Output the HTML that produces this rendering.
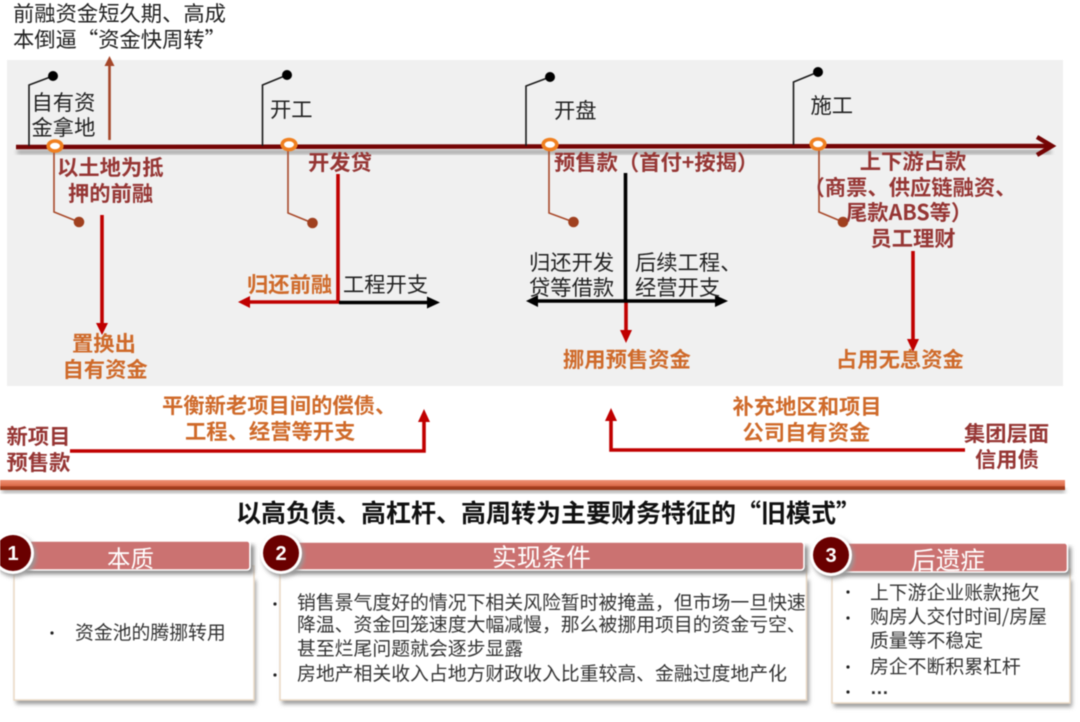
<!DOCTYPE html>
<html lang="zh-CN">
<head>
<meta charset="utf-8">
<style>
html,body{margin:0;padding:0;background:#fff;width:1080px;height:722px;overflow:hidden}
svg{display:block;filter:blur(.5px)}
text{font-family:"Noto Sans CJK SC","Liberation Sans",sans-serif;font-size:21.3px}
.k{fill:#222}
.r{fill:#963634;font-weight:700}
.o{fill:#cf6a2a;font-weight:700}
.g{fill:#333;font-size:18.85px}
.h{fill:#fff;font-size:23.5px}
.n{fill:#fff;font-family:"Liberation Sans",sans-serif;font-size:20px;font-weight:700}
.t{fill:#111;font-size:25px;font-weight:700}
.m{text-anchor:middle}
</style>
</head>
<body>
<svg width="1080" height="722" viewBox="0 0 1080 722" xmlns="http://www.w3.org/2000/svg">
<defs>
<linearGradient id="band" x1="0" y1="0" x2="0" y2="1">
<stop offset="0" stop-color="#ee8f72"/><stop offset=".6" stop-color="#dc6a48"/><stop offset=".65" stop-color="#a53f1e"/><stop offset="1" stop-color="#9c3a1a"/>
</linearGradient>
<filter id="sh" x="-5%" y="-10%" width="110%" height="125%"><feGaussianBlur stdDeviation="2"/></filter>
</defs>

<!-- grey panel -->
<rect x="7" y="60" width="1056" height="326" fill="#f0f0f0"/>

<!-- main timeline -->
<rect x="17" y="150" width="1034" height="4" fill="#999" filter="url(#sh)"/>
<line x1="16" y1="147" x2="1050" y2="146" stroke="#750505" stroke-width="4.5"/>
<polyline points="1037,137 1052,146 1037,155" fill="none" stroke="#750505" stroke-width="4.5"/>

<!-- black flags -->
<g fill="none" stroke="#1a1a1a" stroke-width="1.6">
<polyline points="29,146 29,85 53,76"/>
<polyline points="262.5,146 262.5,85 287,75"/>
<polyline points="526,146 526,86 550,77"/>
<polyline points="793.5,145 793.5,82 818,72"/>
</g>
<g fill="#000">
<circle cx="53" cy="76" r="5"/><circle cx="287" cy="75" r="5"/><circle cx="550" cy="77" r="5"/><circle cx="818" cy="72" r="5"/>
</g>

<!-- brown drop lines -->
<g fill="none" stroke="#a8492a" stroke-width="1.6">
<polyline points="54,150 54,212 79,222"/>
<polyline points="288,150 288,213 312.5,223"/>
<polyline points="549,150 549,213 573.5,222"/>
<polyline points="819,150 819,212 843,222"/>
</g>
<g fill="#a0401f">
<circle cx="79" cy="222" r="5.3"/><circle cx="312.5" cy="223" r="5.3"/><circle cx="573.5" cy="222" r="5.3"/><circle cx="843" cy="222" r="5.3"/>
</g>

<!-- orange markers -->
<g fill="#fff" stroke="#f08020" stroke-width="3.6">
<ellipse cx="55" cy="146" rx="6.8" ry="5"/>
<ellipse cx="289" cy="144.5" rx="6.8" ry="5"/>
<ellipse cx="550" cy="144.5" rx="6.8" ry="5"/>
<ellipse cx="818" cy="144" rx="6.8" ry="5"/>
</g>

<!-- brown up arrow -->
<line x1="109.5" y1="140" x2="109.5" y2="64" stroke="#a5472a" stroke-width="2.6"/>
<polygon points="109.5,56 114.5,66 104.5,66" fill="#a5472a"/>

<!-- arrows -->
<g stroke="#c00000" stroke-width="3.6" fill="none">
<line x1="102" y1="215" x2="102" y2="325"/>
<polyline points="338,174 338,302 248,302"/>
<line x1="626" y1="301" x2="626" y2="332"/>
<line x1="913" y1="251" x2="913" y2="341"/>
<polyline points="70,451 424,451 424,420"/>
<polyline points="965,450 611,450 611,419"/>
</g>
<g fill="#c00000">
<polygon points="102,335 96,323 108,323"/>
<polygon points="238,302 250,296 250,308"/>
<polygon points="626,343 620,330 632,330"/>
<polygon points="913,352 907,339 919,339"/>
<polygon points="424,409 418,422 430,422"/>
<polygon points="611,408 605,421 617,421"/>
</g>
<g stroke="#000" stroke-width="3.6" fill="none">
<line x1="339" y1="302.5" x2="430" y2="302.5"/>
<line x1="625.5" y1="173" x2="625.5" y2="301"/>
<line x1="535" y1="301" x2="718" y2="301"/>
</g>
<g fill="#000">
<polygon points="440,302.5 427,296.5 427,308.5"/>
<polygon points="526,301 538,295 538,307"/>
<polygon points="728,301 715,295 715,307"/>
</g>

<!-- band -->
<rect x="2" y="488" width="1063" height="5" fill="#aaa" filter="url(#sh)"/>
<rect x="0" y="480" width="1065" height="10" fill="url(#band)"/>

<!-- top labels -->
<text class="k" x="13" y="21">前融资金短久期、高成</text>
<text class="k" x="13" y="47">本倒逼“资金快周转”</text>
<text class="k" x="31.5" y="110">自有资</text>
<text class="k" x="31.5" y="135">金拿地</text>
<text class="k" x="270" y="117">开工</text>
<text class="k" x="554" y="118">开盘</text>
<text class="k" x="810.5" y="113">施工</text>

<text class="r" x="57" y="175">以土地为抵</text>
<text class="r" x="68" y="201">押的前融</text>
<text class="r" x="308" y="170">开发贷</text>
<text class="r" x="554" y="170">预售款（首付+按揭）</text>
<text class="r m" x="913" y="169">上下游占款</text>
<text class="r m" x="910" y="195">（商票、供应链融资、</text>
<text class="r" x="846" y="220">尾款ABS等）</text>
<text class="r m" x="913" y="246">员工理财</text>

<text class="o" x="247" y="292">归还前融</text>
<text class="k" x="343" y="292">工程开支</text>
<text class="k" x="529" y="270">归还开发</text>
<text class="k" x="529" y="295">贷等借款</text>
<text class="k" x="635" y="270">后续工程、</text>
<text class="k" x="635" y="295">经营开支</text>

<text class="o" x="72" y="351">置换出</text>
<text class="o" x="62.5" y="377">自有资金</text>
<text class="o" x="563" y="367">挪用预售资金</text>
<text class="o" x="836" y="367">占用无息资金</text>

<text class="o" x="162" y="413">平衡新老项目间的偿债、</text>
<text class="o" x="185" y="439">工程、经营等开支</text>
<text class="o" x="732.5" y="414">补充地区和项目</text>
<text class="o" x="742.5" y="440">公司自有资金</text>
<text class="r" x="6.5" y="444">新项目</text>
<text class="r" x="6.5" y="470">预售款</text>
<text class="r" x="964" y="441">集团层面</text>
<text class="r" x="975" y="467">信用债</text>

<!-- title -->
<text class="t" x="236" y="522">以高负债、高杠杆、高周转为主要财务特征的“旧模式”</text>

<!-- body shadows -->
<rect x="16" y="580" width="240" height="124" fill="#999" filter="url(#sh)"/>
<rect x="282" y="580" width="527" height="124" fill="#999" filter="url(#sh)"/>
<rect x="834" y="580" width="238" height="127" fill="#999" filter="url(#sh)"/>

<!-- bodies -->
<rect x="14" y="566" width="240" height="134" fill="#fff" stroke="#ead9c5" stroke-width="1.5"/>
<rect x="280" y="566" width="526.5" height="134" fill="#fff" stroke="#ead9c5" stroke-width="1.5"/>
<rect x="832" y="569" width="238" height="134" fill="#fff" stroke="#ead9c5" stroke-width="1.5"/>

<!-- header shadows -->
<rect x="25" y="545" width="229" height="29" fill="#888" filter="url(#sh)"/>
<rect x="290" y="546" width="518" height="28" fill="#888" filter="url(#sh)"/>
<rect x="840" y="547" width="231" height="29" fill="#888" filter="url(#sh)"/>

<!-- headers -->
<rect x="25" y="541" width="225" height="29" rx="3" fill="#cb7271" stroke="#fff" stroke-width="1.6"/>
<rect x="290" y="542" width="514" height="28" rx="3" fill="#cb7271" stroke="#fff" stroke-width="1.6"/>
<rect x="840" y="543" width="227.5" height="29" rx="3" fill="#cb7271" stroke="#fff" stroke-width="1.6"/>
<text class="h" x="107" y="567">本质</text>
<text class="h" x="492" y="566" style="font-size:24.7px">实现条件</text>
<text class="h" x="911" y="569" style="font-size:24.7px">后遗症</text>

<!-- number circles -->
<circle cx="15" cy="556" r="21" fill="#999" filter="url(#sh)"/>
<circle cx="283" cy="556" r="21" fill="#999" filter="url(#sh)"/>
<circle cx="833" cy="558" r="21" fill="#999" filter="url(#sh)"/>
<circle cx="13" cy="553" r="21" fill="#fff"/>
<circle cx="281" cy="553" r="21" fill="#fff"/>
<circle cx="831" cy="555" r="21" fill="#fff"/>
<circle cx="13" cy="553" r="18" fill="#6a0000"/>
<circle cx="281" cy="553" r="18" fill="#6a0000"/>
<circle cx="831" cy="555" r="18" fill="#6a0000"/>
<text class="n m" x="13" y="560">1</text>
<text class="n m" x="281" y="560">2</text>
<text class="n m" x="831" y="562">3</text>

<!-- body text -->
<g fill="#222">
<circle cx="52" cy="633" r="1.6"/>
<circle cx="275" cy="604" r="1.6"/>
<circle cx="275" cy="675" r="1.6"/>
<circle cx="848" cy="592" r="1.6"/>
<circle cx="848" cy="618" r="1.6"/>
<circle cx="848" cy="667" r="1.6"/>
<circle cx="848" cy="692" r="1.6"/>
</g>
<text class="g" x="75" y="639">资金池的腾挪转用</text>
<text class="g" x="297" y="609">销售景气度好的情况下相关风险暂时被掩盖，但市场一旦快速</text>
<text class="g" x="297" y="631">降温、资金回笼速度大幅减慢，那么被挪用项目的资金亏空、</text>
<text class="g" x="297" y="655">甚至烂尾问题就会逐步显露</text>
<text class="g" x="297" y="680">房地产相关收入占地方财政收入比重较高、金融过度地产化</text>
<text class="g" x="870" y="599">上下游企业账款拖欠</text>
<text class="g" x="870" y="623">购房人交付时间/房屋</text>
<text class="g" x="870" y="647">质量等不稳定</text>
<text class="g" x="870" y="673">房企不断积累杠杆</text>
<text class="g" x="870" y="694" style="font-family:'Liberation Sans',sans-serif;font-weight:700">…</text>
</svg>
</body>
</html>
